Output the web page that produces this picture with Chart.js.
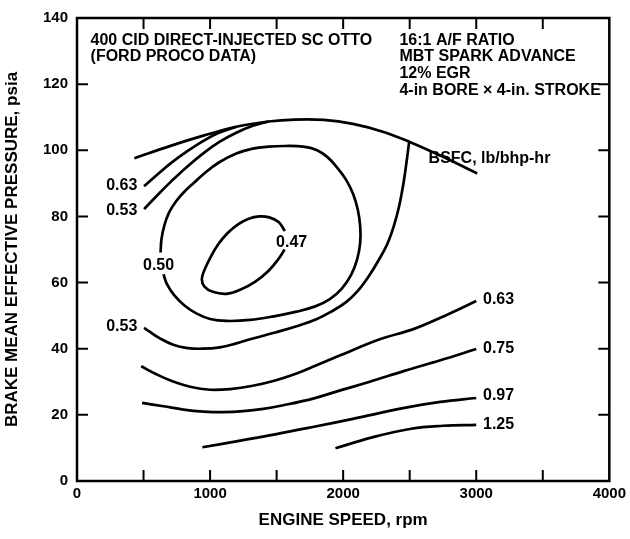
<!DOCTYPE html>
<html>
<head>
<meta charset="utf-8">
<script src="https://cdn.jsdelivr.net/npm/chart.js@4.4.1/dist/chart.umd.min.js"></script>
<style>
  html, body { margin: 0; padding: 0; background: #fff; }
</style>
</head>
<body>
<canvas id="bsfcChart" width="630" height="539"></canvas>
<script>
// [engine speed rpm, BMEP psia]
const envelope = [[431, 97.6], [708, 101.4], [956, 104.5], [1197, 107.1], [1438, 108.7], [1635, 109.3],
  [1854, 109.2], [2073, 108.0], [2292, 105.7], [2496, 102.6], [2730, 98.4], [3007, 93.0]];
const bsfc063Top = [[504, 89.1], [613, 93.0], [708, 96.2], [832, 99.8], [956, 103.0], [1066, 105.3], [1197, 107.1]];
const bsfc053Top = [[504, 82.2], [613, 86.8], [708, 90.6], [832, 95.2], [956, 99.3], [1073, 102.6], [1197, 105.3],
  [1321, 107.4], [1438, 108.7]];
const bsfc053 = [[2496, 102.6], [2478, 97.0], [2455, 90.5], [2420, 83.0], [2380, 77.0], [2330, 71.5],
  [2270, 67.0], [2197, 62.2], [2110, 57.5], [2022, 54.1], [1910, 51.2], [1803, 49.0], [1650, 46.8],
  [1489, 44.9], [1321, 43.1], [1197, 41.6], [1073, 40.4], [942, 40.0], [832, 40.2], [723, 41.2],
  [620, 43.2], [540, 45.3], [504, 46.3]];
const bsfc050 = [[628, 69.1], [635, 73.2], [657, 77.4], [693, 81.3], [745, 84.6], [810, 87.6], [883, 90.3],
  [956, 93.0], [1066, 96.3], [1197, 99.0], [1321, 100.5], [1438, 101.1], [1562, 101.3], [1700, 101.1],
  [1800, 100.1], [1880, 98.0], [1950, 95.0], [2020, 91.2], [2075, 86.8], [2110, 82.0], [2128, 77.0],
  [2128, 72.0], [2105, 67.0], [2060, 62.3], [1990, 58.2], [1900, 55.0], [1790, 52.8], [1650, 51.2],
  [1480, 49.8], [1300, 48.7], [1124, 48.4], [1000, 49.0], [900, 50.6], [810, 53.0], [730, 56.2],
  [675, 59.6], [650, 62.5]];
const bsfc047 = [[1562, 75.6], [1515, 78.3], [1445, 79.7], [1370, 80.0], [1290, 79.3], [1210, 77.6],
  [1130, 74.9], [1060, 71.5], [1005, 67.8], [960, 64.0], [938, 61.0], [958, 58.8], [1020, 57.2],
  [1124, 56.6], [1230, 57.9], [1340, 60.3], [1440, 63.6], [1515, 67.2], [1560, 70.0]];
const bsfc063 = [[482, 34.7], [600, 32.2], [708, 30.3], [850, 28.5], [1000, 27.6], [1150, 27.8],
  [1321, 28.8], [1489, 30.4], [1650, 32.5], [1800, 35.0], [1978, 38.0], [2270, 42.8], [2533, 46.0],
  [2766, 50.0], [3000, 54.4]];
const bsfc075 = [[489, 23.6], [650, 22.6], [800, 21.6], [950, 21.0], [1100, 20.8], [1250, 21.1],
  [1400, 21.8], [1550, 22.9], [1781, 25.0], [1978, 27.4], [2200, 30.0], [2460, 33.3], [2730, 36.5],
  [3000, 39.9]];
const bsfc097 = [[942, 10.2], [1197, 12.0], [1489, 14.1], [1781, 16.4], [2073, 18.8], [2460, 22.1],
  [2730, 23.9], [3000, 25.1]];
const bsfc125 = [[1942, 9.9], [2219, 13.2], [2511, 15.8], [2750, 16.7], [3000, 17.0]];

const contours = [envelope, bsfc063Top, bsfc053Top, bsfc053, bsfc050, bsfc047, bsfc063, bsfc075, bsfc097, bsfc125];

// text placed on the plot, anchored in data units
const plotTexts = [
  { text: '0.63', x: 453, y: 89.4, align: 'right' },
  { text: '0.53', x: 453, y: 81.9, align: 'right' },
  { text: '0.50', x: 613, y: 65.2, align: 'center' },
  { text: '0.47', x: 1613, y: 72.0, align: 'center' },
  { text: '0.53', x: 453, y: 46.6, align: 'right' },
  { text: '0.63', x: 3051, y: 55.0, align: 'left' },
  { text: '0.75', x: 3051, y: 40.1, align: 'left' },
  { text: '0.97', x: 3051, y: 25.7, align: 'left' },
  { text: '1.25', x: 3051, y: 17.0, align: 'left' },
  { text: 'BSFC, lb/bhp-hr', x: 2642, y: 97.5, align: 'left' },
  { text: '400 CID DIRECT-INJECTED SC OTTO', x: 102, y: 133.3, align: 'left' },
  { text: '(FORD PROCO DATA)', x: 102, y: 128.3, align: 'left' },
  { text: '16:1 A/F RATIO', x: 2423, y: 133.3, align: 'left' },
  { text: 'MBT SPARK ADVANCE', x: 2423, y: 128.3, align: 'left' },
  { text: '12% EGR', x: 2423, y: 123.2, align: 'left' },
  { text: '4-in BORE \u00d7 4-in. STROKE', x: 2423, y: 118.1, align: 'left' }
];

const xMinorTicks = [500, 1000, 1500, 2000, 2500, 3000, 3500];
const yMinorTicks = [20, 40, 60, 80, 100, 120];

const FONT = "'Liberation Sans', Arial, sans-serif";

const framePlugin = {
  id: 'frame',
  afterDraw(chart) {
    const ctx = chart.ctx;
    const a = chart.chartArea;
    const xs = chart.scales.x, ys = chart.scales.y;
    ctx.save();
    ctx.strokeStyle = '#000';
    ctx.lineWidth = 2.5;
    ctx.strokeRect(a.left, a.top, a.right - a.left, a.bottom - a.top);
    ctx.lineWidth = 2;
    const len = 11;
    ctx.beginPath();
    xMinorTicks.forEach(v => {
      const px = xs.getPixelForValue(v);
      ctx.moveTo(px, a.bottom); ctx.lineTo(px, a.bottom - len);
      ctx.moveTo(px, a.top); ctx.lineTo(px, a.top + len);
    });
    yMinorTicks.forEach(v => {
      const py = ys.getPixelForValue(v);
      ctx.moveTo(a.left, py); ctx.lineTo(a.left + len, py);
      ctx.moveTo(a.right, py); ctx.lineTo(a.right - len, py);
    });
    ctx.stroke();

    ctx.fillStyle = '#000';
    ctx.font = 'bold 16px ' + FONT;
    ctx.textBaseline = 'middle';
    plotTexts.forEach(t => {
      ctx.textAlign = t.align;
      ctx.fillText(t.text, xs.getPixelForValue(t.x), ys.getPixelForValue(t.y));
    });
    ctx.restore();
  }
};

new Chart(document.getElementById('bsfcChart').getContext('2d'), {
  type: 'scatter',
  data: {
    datasets: contours.map(c => ({
      data: c.map(([x, y]) => ({ x, y })),
      showLine: true,
      tension: 0.4,
      borderColor: '#000',
      borderWidth: 2.7,
      pointRadius: 0,
      fill: false
    }))
  },
  options: {
    responsive: false,
    animation: false,
    layout: { padding: { left: 2, right: 5, top: 13, bottom: 8 } },
    plugins: {
      legend: { display: false },
      tooltip: { enabled: false }
    },
    scales: {
      x: {
        type: 'linear', min: 0, max: 4000,
        grid: { display: false, drawTicks: false },
        border: { display: false },
        ticks: { stepSize: 1000, color: '#000', padding: 4, callback: v => String(v),
          font: { family: FONT, size: 15, weight: 'bold' } },
        title: { display: true, text: 'ENGINE SPEED, rpm', color: '#000', padding: { top: 0, bottom: 0 },
          font: { family: FONT, size: 17, weight: 'bold' } },
        afterFit(scale) { scale.height = 50; }
      },
      y: {
        type: 'linear', min: 0, max: 140,
        grid: { display: false, drawTicks: false },
        border: { display: false },
        ticks: { stepSize: 20, color: '#000', padding: 9, callback: v => String(v),
          font: { family: FONT, size: 15, weight: 'bold' } },
        title: { display: true, text: 'BRAKE MEAN EFFECTIVE PRESSURE, psia', color: '#000', padding: { top: 0, bottom: 0 },
          font: { family: FONT, size: 17, weight: 'bold' } },
        afterFit(scale) { scale.width = 75; }
      }
    }
  },
  plugins: [framePlugin]
});
</script>
</body>
</html>
